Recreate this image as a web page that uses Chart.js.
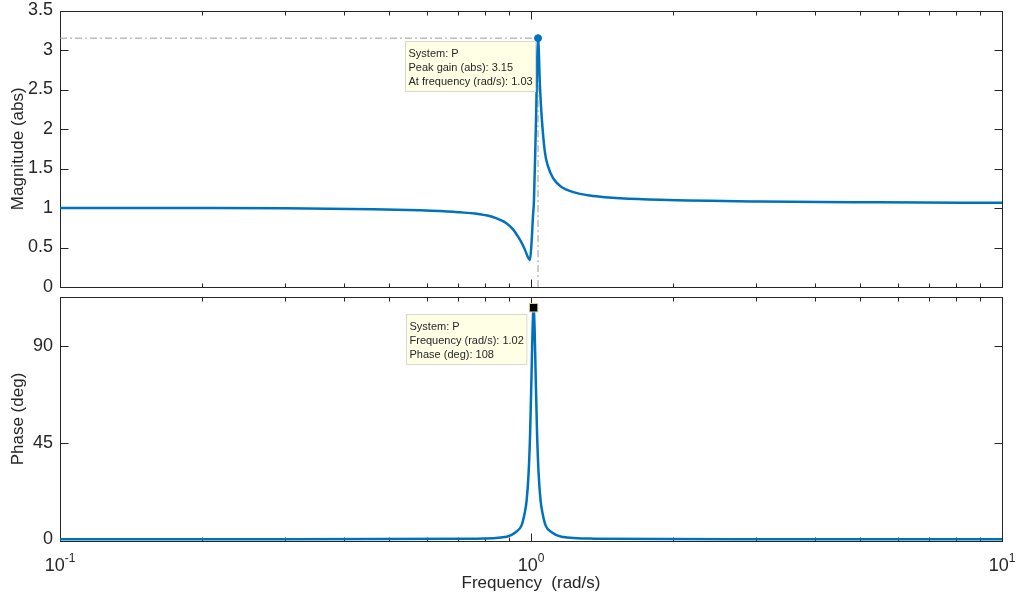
<!DOCTYPE html>
<html>
<head>
<meta charset="utf-8">
<script src="https://cdn.jsdelivr.net/npm/chart.js@4.4.1/dist/chart.umd.min.js"></script>
<style>
  html, body { margin: 0; padding: 0; background: #fff; }
  #wrap { position: relative; width: 1016px; height: 601px; }
  #wrap canvas { position: absolute; left: 0; top: 0; }
</style>
</head>
<body>
<div id="wrap">
  <canvas id="magChart" width="1016" height="601"></canvas>
  <canvas id="phaseChart" width="1016" height="601"></canvas>
</div>
<script>
// ---- data ----
const magFreq   = [0.1, 0.2, 0.3, 0.462, 0.582, 0.641, 0.707, 0.761, 0.799, 0.827, 0.86, 0.885, 0.916, 0.938, 0.957, 0.971, 0.983, 0.995,
                   1.0024, 1.0098, 1.0147, 1.0247, 1.035, 1.0449, 1.0552, 1.0707, 1.0865, 1.1134, 1.1522, 1.1924, 1.2579, 1.3337, 1.4353,
                   1.5444, 1.877, 3.06, 5.5, 10];
const magValues = [1.0, 0.999, 0.996, 0.985, 0.972, 0.962, 0.945, 0.93, 0.91, 0.89, 0.85, 0.81, 0.73, 0.64, 0.55, 0.47, 0.39, 0.34,
                   0.55, 0.9, 1.1, 2.1, 3.15, 2.53, 2.1, 1.70, 1.53, 1.38, 1.28, 1.23, 1.185, 1.158, 1.137,
                   1.123, 1.103, 1.082, 1.072, 1.065];

const phaseFreq   = [0.1, 0.3, 0.755, 0.888, 0.9276, 0.955, 0.9692, 0.9788, 0.9884, 0.9956, 1.0029, 1.0078, 1.0128, 1.0178, 1.0227, 1.0302, 1.0378, 1.048, 1.0583, 1.0739, 1.1058, 1.161, 1.358, 3, 10];
const phaseValues = [0.02, 0.05, 0.3, 1.2, 3.3, 6.5, 12, 18, 31, 49, 78, 98, 108, 98, 78, 49, 31, 18, 12, 6.5, 3.3, 1.2, 0.3, 0.05, 0.02];

const magPeak   = [1.035, 3.15];
const phasePeak = [1.0128, 108];

const magTicks      = [0, 0.5, 1, 1.5, 2, 2.5, 3, 3.5];
const phaseTicks    = [0, 45, 90];
const freqMajor     = [0.1, 1, 10];
const freqMinor     = [0.2, 0.3, 0.4, 0.5, 0.6, 0.7, 0.8, 0.9, 2, 3, 4, 5, 6, 7, 8, 9];
const freqExponents = ['-1', '0', '1'];

const magTipLines   = ['System: P', 'Peak gain (abs): 3.15', 'At frequency (rad/s): 1.03'];
const phaseTipLines = ['System: P', 'Frequency (rad/s): 1.02', 'Phase (deg): 108'];

// ---- styling ----
const FONT  = '"Liberation Sans", Arial, Helvetica, sans-serif';
const AXIS  = '#262626';
const BLUE  = '#0072BD';
const GUIDE = '#9a9a9a';

const toXY = (xs, ys) => xs.map((x, i) => ({ x: x, y: ys[i] }));
const isDecade = v => Math.abs(Math.log10(v) - Math.round(Math.log10(v))) < 1e-9;

// box round the plot area with inward ticks on all four sides
const boxTicks = {
  id: 'boxTicks',
  beforeDatasetsDraw(chart) {
    const { ctx, chartArea: a, scales: { x, y } } = chart;
    const L = Math.round(a.left) + 0.5, R = Math.round(a.right) + 0.5;
    const T = Math.round(a.top) + 0.5, B = Math.round(a.bottom) + 0.5;
    ctx.save();
    ctx.strokeStyle = AXIS;
    ctx.lineWidth = 1;
    ctx.strokeRect(L, T, R - L, B - T);
    ctx.beginPath();
    x.ticks.forEach(t => {
      const px = Math.round(x.getPixelForValue(t.value)) + 0.5;
      const len = isDecade(t.value) ? 8 : 4;
      ctx.moveTo(px, B); ctx.lineTo(px, B - len);
      ctx.moveTo(px, T); ctx.lineTo(px, T + len);
    });
    y.ticks.forEach(t => {
      const py = Math.round(y.getPixelForValue(t.value)) + 0.5;
      ctx.moveTo(L, py); ctx.lineTo(L + 8, py);
      ctx.moveTo(R, py); ctx.lineTo(R - 8, py);
    });
    ctx.stroke();
    ctx.restore();
  }
};

// data tip box (MATLAB style)
function drawTip(ctx, lines, right, top) {
  ctx.save();
  ctx.font = '11px ' + FONT;
  const padL = 3, padR = 3, lineH = 14;
  const w = Math.max(...lines.map(l => ctx.measureText(l).width)) + padL + padR;
  const h = lines.length * lineH + 8;
  const left = Math.round(right - w) + 0.5, t0 = Math.round(top) + 0.5;
  ctx.fillStyle = '#ffffe6';
  ctx.strokeStyle = '#d8d8cc';
  ctx.lineWidth = 1;
  ctx.fillRect(left, t0, w, h);
  ctx.strokeRect(left, t0, w, h);
  ctx.fillStyle = '#262626';
  ctx.textBaseline = 'middle';
  lines.forEach((l, i) => ctx.fillText(l, left + padL, t0 + 12 + i * lineH));
  ctx.restore();
}

function tipPlugin(lines, dx, dy) {
  return {
    id: 'tip',
    afterDraw(chart) {
      const pt = chart.getDatasetMeta(0).data[0];
      drawTip(chart.ctx, lines, pt.x + dx, pt.y + dy);
    }
  };
}

// frequency tick labels 10^n and axis title
const freqLabels = {
  id: 'freqLabels',
  afterDraw(chart) {
    const { ctx, scales: { x } } = chart;
    ctx.save();
    ctx.fillStyle = AXIS;
    ctx.textBaseline = 'alphabetic';
    freqMajor.forEach((v, i) => {
      const px = x.getPixelForValue(v);
      ctx.font = '18px ' + FONT;
      const wb = ctx.measureText('10').width;
      ctx.font = '12px ' + FONT;
      const we = ctx.measureText(freqExponents[i]).width;
      const start = px - (wb + we) / 2;
      ctx.font = '18px ' + FONT;
      ctx.fillText('10', start, 571);
      ctx.font = '12px ' + FONT;
      ctx.fillText(freqExponents[i], start + wb, 562);
    });
    ctx.font = '17px ' + FONT;
    ctx.textAlign = 'center';
    ctx.fillText('Frequency  (rad/s)', (chart.chartArea.left + chart.chartArea.right) / 2, 588);
    ctx.restore();
  }
};

const noPad = s => { s.paddingTop = 0; s.paddingBottom = 0; s.paddingLeft = 0; s.paddingRight = 0; };

function xScale() {
  return {
    type: 'logarithmic',
    min: 0.1, max: 10,
    afterBuildTicks: s => { s.ticks = freqMajor.concat(freqMinor).sort((a, b) => a - b).map(v => ({ value: v })); },
    afterFit: s => { s.height = 0; noPad(s); },
    ticks: { display: false },
    grid: { display: false },
    border: { display: false }
  };
}

function yScale(min, max, ticks, title) {
  return {
    min: min, max: max,
    afterBuildTicks: s => { s.ticks = ticks.map(v => ({ value: v })); },
    afterFit: s => { s.width = 60; noPad(s); },
    ticks: { color: AXIS, font: { family: FONT, size: 18 }, padding: 7, callback: v => String(v) },
    grid: { display: false, drawTicks: false },
    border: { display: false },
    title: { display: true, text: title, color: AXIS, font: { family: FONT, size: 17 }, padding: { top: 8, bottom: 0 } }
  };
}

const common = {
  responsive: false,
  animation: false,
  events: [],
  plugins: { legend: { display: false }, tooltip: { enabled: false } }
};

// ---- magnitude panel ----
new Chart(document.getElementById('magChart'), {
  type: 'scatter',
  data: {
    datasets: [
      { data: [{ x: magPeak[0], y: magPeak[1] }], pointRadius: 3.5, pointBackgroundColor: BLUE, pointBorderColor: BLUE, showLine: false },
      { data: toXY(magFreq, magValues), showLine: true, borderColor: BLUE, borderWidth: 2.5, pointRadius: 0, cubicInterpolationMode: 'monotone' },
      { data: [{ x: 0.1, y: magPeak[1] }, { x: magPeak[0], y: magPeak[1] }, { x: magPeak[0], y: 0 }],
        showLine: true, borderColor: GUIDE, borderWidth: 1, borderDash: [7, 3, 2, 3], pointRadius: 0 }
    ]
  },
  options: Object.assign({}, common, {
    layout: { padding: { left: 0, right: 14, top: 10.5, bottom: 314 } },
    scales: { x: xScale(), y: yScale(0, 3.5, magTicks, 'Magnitude (abs)') }
  }),
  plugins: [boxTicks, tipPlugin(magTipLines, -3, 3)]
});

// ---- phase panel ----
new Chart(document.getElementById('phaseChart'), {
  type: 'scatter',
  data: {
    datasets: [
      { data: [{ x: phasePeak[0], y: phasePeak[1] }], pointStyle: 'rect', pointRadius: 6, pointBackgroundColor: '#000', pointBorderColor: '#d9d3a0', pointBorderWidth: 1, showLine: false },
      { data: toXY(phaseFreq, phaseValues), showLine: true, borderColor: BLUE, borderWidth: 2.5, pointRadius: 0, cubicInterpolationMode: 'monotone' }
    ]
  },
  options: Object.assign({}, common, {
    layout: { padding: { left: 0, right: 14, top: 297, bottom: 60 } },
    scales: { x: xScale(), y: yScale(-0.8, 113, phaseTicks, 'Phase (deg)') }
  }),
  plugins: [boxTicks, tipPlugin(phaseTipLines, -7, 6), freqLabels]
});
</script>
</body>
</html>
